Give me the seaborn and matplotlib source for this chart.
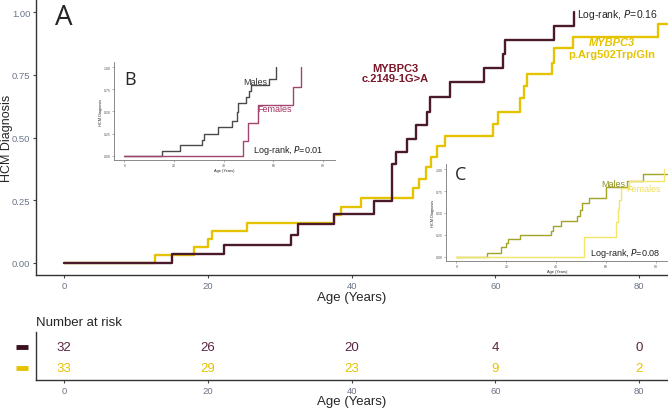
import numpy as np
import pandas as pd
import matplotlib
matplotlib.use("Agg")
import matplotlib.pyplot as plt
import matplotlib.transforms as mtransforms
import seaborn as sns

# Main curves (A)
splice_age = [0, 15.0, 22.2, 31.5, 32.5, 37.6, 43.1, 45.6, 46.2, 47.7, 49.0, 50.5, 50.9, 53.7, 58.4, 61.0, 61.3, 68.2, 70.9]
splice_val = [0, 0.034, 0.07, 0.11, 0.155, 0.195, 0.245, 0.394, 0.441, 0.494, 0.55, 0.60, 0.663, 0.72, 0.777, 0.833, 0.89, 0.943, 1.0]
arg_age = [0, 12.6, 18.1, 20.0, 20.6, 25.5, 37.6, 38.5, 41.3, 48.6, 49.4, 50.4, 51.0, 51.9, 53.0, 59.7, 60.3, 63.4, 64.0, 64.4, 67.8, 68.1, 70.8, 82.6, 84.0]
arg_val = [0, 0.032, 0.064, 0.096, 0.129, 0.158, 0.19, 0.225, 0.259, 0.297, 0.335, 0.381, 0.421, 0.465, 0.507, 0.554, 0.603, 0.656, 0.704, 0.753, 0.798, 0.855, 0.899, 0.952, 0.952]

# Inset B (splice carriers by sex)
b_male_age = [0, 15.1, 22.4, 31.3, 32.0, 37.7, 43.3, 45.3, 45.6, 48.8, 50.1, 51.1, 58.4, 61.1]
b_male_val = [0, 0.057, 0.117, 0.18, 0.25, 0.32, 0.388, 0.49, 0.59, 0.66, 0.73, 0.80, 0.87, 1.0]
b_fem_age = [0, 47.9, 49.7, 53.7, 68.0, 71.3]
b_fem_val = [0, 0.17, 0.37, 0.57, 0.78, 1.0]

# Inset C (Arg502 carriers by sex)
c_male_age = [0, 12.4, 17.9, 19.8, 20.7, 25.5, 37.8, 38.8, 42.1, 48.4, 49.5, 50.4, 53.3, 60.0, 68.4, 74.8, 84.5]
c_male_val = [0, 0.045, 0.107, 0.156, 0.205, 0.243, 0.295, 0.352, 0.409, 0.47, 0.534, 0.618, 0.668, 0.795, 0.868, 0.94, 0.94]
c_fem_age = [0, 51.1, 64.0, 64.6, 65.2, 65.8, 69.0, 83.0]
c_fem_val = [0, 0.227, 0.40, 0.55, 0.65, 0.79, 0.87, 1.0]

# Number at risk
risk_times = [0, 20, 40, 60, 80]
risk_splice = [32, 26, 20, 4, 0]
risk_arg = [33, 29, 23, 9, 2]

DARK = "#4a1a2c"
DARK_TXT = "#7a1628"
GOLD = "#e6c300"
TICK_C = "#6b7588"

sns.set_style("white")
plt.rcParams['font.family'] = ['Liberation Sans Narrow', 'Liberation Sans', 'DejaVu Sans']

fig = plt.figure(figsize=(6.68, 4.10), dpi=100)
ax = fig.add_axes([36/668, 1-276/410, 632/668, 276/410])

def steps(a, x, y, color, lw):
    df = pd.DataFrame({"age": x, "val": y})
    sns.lineplot(data=df, x="age", y="val", ax=a, color=color, lw=lw,
                 drawstyle="steps-post", estimator=None, sort=False)

steps(ax, arg_age, arg_val, GOLD, 1.7)
steps(ax, splice_age, splice_val, DARK, 1.7)

ax.set_xlim(-3.9, 84.0)
ax.set_ylim(-0.048, 1.052)
ax.set_xticks([0, 20, 40, 60, 80])
ax.set_yticks([0, 0.25, 0.5, 0.75, 1.0])
ax.set_yticklabels(["0.00", "0.25", "0.50", "0.75", "1.00"])
ax.tick_params(axis="both", labelsize=6.8, labelcolor=TICK_C, color="#444444",
               length=2.5, width=0.8, direction="out", left=True, bottom=True, pad=1.5)
ax.set_xlabel("Age (Years)", fontsize=9.5, labelpad=1)
ax.set_ylabel("HCM Diagnosis", fontsize=9)
ax.yaxis.set_label_coords(-0.037, 0.5)
for s in ["top", "right"]:
    ax.spines[s].set_visible(False)
for s in ["left", "bottom"]:
    ax.spines[s].set_color("#333333")
    ax.spines[s].set_linewidth(1.0)

ax.text(0.03, 0.935, "A", transform=ax.transAxes, fontsize=20, va="center", ha="left",
        family=["Open Sans", "DejaVu Sans"])
ax.text(0.856, 0.946, "Log-rank, $\\it{P}$=0.16", transform=ax.transAxes, fontsize=7.5,
        va="center", ha="left")
ax.text(0.568, 0.732, "MYBPC3\nc.2149-1G>A", transform=ax.transAxes, fontsize=8,
        fontweight="bold", color=DARK_TXT, ha="center", va="center", linespacing=1.1)
ax.text(0.911, 0.844, "MYBPC3", transform=ax.transAxes, fontsize=8, fontweight="bold",
        fontstyle="italic", color=GOLD, ha="center", va="center")
ax.text(0.911, 0.80, "p.Arg502Trp/Gln", transform=ax.transAxes, fontsize=8,
        fontweight="bold", color=GOLD, ha="center", va="center")

def inset(rect, male_x, male_y, fem_x, fem_y, mcol, fcol, letter, mlab, flab, ptxt):
    a = fig.add_axes(rect)
    a.set_facecolor("none")
    steps(a, male_x, male_y, mcol, 1.0)
    steps(a, fem_x, fem_y, fcol, 1.0)
    a.set_xlim(-4.2, 84.8)
    a.set_ylim(-0.05, 1.06)
    a.set_xticks([0, 20, 40, 60, 80])
    a.set_yticks([0, 0.25, 0.5, 0.75, 1.0])
    a.set_yticklabels(["0.00", "0.25", "0.50", "0.75", "1.00"])
    a.tick_params(labelsize=2.5, labelcolor="#555555", length=1.2, width=0.4,
                  color="#777777", left=True, bottom=True, pad=1)
    a.set_xlabel("Age (Years)", fontsize=2.8, labelpad=1)
    a.set_ylabel("HCM Diagnosis", fontsize=2.8, labelpad=1)
    for s in ["top", "right"]:
        a.spines[s].set_visible(False)
    for s in ["left", "bottom"]:
        a.spines[s].set_color("#777777")
        a.spines[s].set_linewidth(0.6)
    a.text(letter[1], letter[2], letter[0], transform=a.transAxes, fontsize=13,
           va="center", ha="left", family=["Open Sans", "DejaVu Sans"])
    a.text(mlab[1], mlab[2], mlab[0], transform=a.transAxes, fontsize=6.5,
           color=mlab[3], ha="center", va="center")
    a.text(flab[1], flab[2], flab[0], transform=a.transAxes, fontsize=6.5,
           color=flab[3], ha="center", va="center")
    a.text(ptxt[1], ptxt[2], ptxt[0], transform=a.transAxes, fontsize=6.5,
           color="#222222", ha="left", va="center")
    return a

inset([114/668, 1-161/410, 221/668, 98/410], b_male_age, b_male_val, b_fem_age, b_fem_val,
      "#4a4a4a", "#a3466f",
      ("B", 0.045, 0.83), ("Males", 0.638, 0.806, "#333333"),
      ("Females", 0.724, 0.53, "#a3335f"), ("Log-rank, $\\it{P}$=0.01", 0.629, 0.105))

inset([446/668, 1-262/410, 222/668, 97/410], c_male_age, c_male_val, c_fem_age, c_fem_val,
      "#a3a325", "#f3e46a",
      ("C", 0.04, 0.895), ("Males", 0.754, 0.804, "#8f8f1c"),
      ("Females", 0.889, 0.75, "#f0df55"), ("Log-rank, $\\it{P}$=0.08", 0.649, 0.086))

# risk table
axr = fig.add_axes([36/668, 1-381/410, 632/668, 48/410])
axr.set_xlim(-3.9, 84.0)
axr.set_ylim(0.44, 2.69)
for t, n in zip(risk_times, risk_splice):
    axr.text(t, 2, str(n), color="#5a2340", fontsize=9.5, ha="center", va="center")
for t, n in zip(risk_times, risk_arg):
    axr.text(t, 1, str(n), color=GOLD, fontsize=9.5, ha="center", va="center")
blend = mtransforms.blended_transform_factory(axr.transAxes, axr.transData)
axr.plot([-0.032, -0.012], [2, 2], color="#3a0f1e", lw=3.5, transform=blend, clip_on=False,
         solid_capstyle="butt")
axr.plot([-0.032, -0.012], [1, 1], color=GOLD, lw=3.5, transform=blend, clip_on=False,
         solid_capstyle="butt")
axr.set_xticks([0, 20, 40, 60, 80])
axr.set_yticks([])
axr.tick_params(axis="x", labelsize=6.8, labelcolor=TICK_C, color="#444444",
                length=2.5, width=0.8, bottom=True, pad=1.5)
axr.set_xlabel("Age (Years)", fontsize=9.5, labelpad=0)
axr.set_title("Number at risk", loc="left", fontsize=9.5, pad=5)
for s in ["top", "right"]:
    axr.spines[s].set_visible(False)
for s in ["left", "bottom"]:
    axr.spines[s].set_color("#333333")
    axr.spines[s].set_linewidth(1.0)

fig.savefig("out.png", dpi=100)
